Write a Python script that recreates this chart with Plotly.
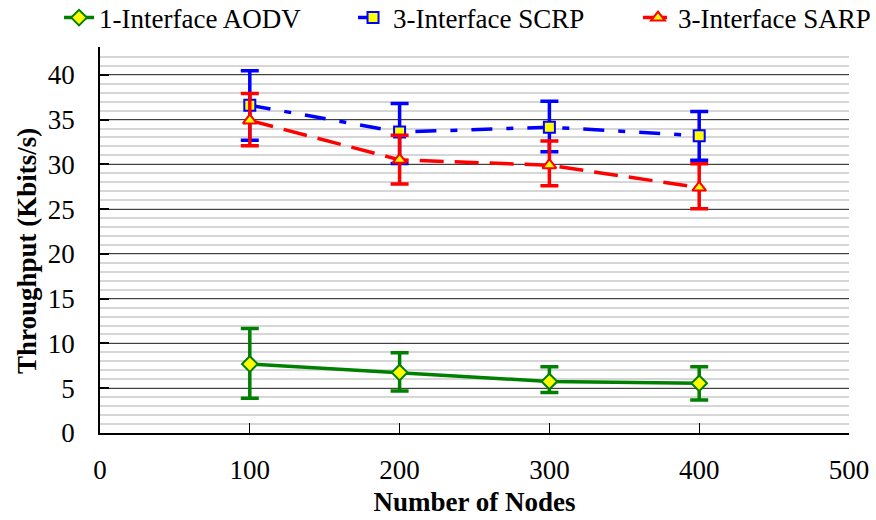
import plotly.graph_objects as go

# ---- data ----
nodes = [100, 200, 300, 400]

aodv = [7.7, 6.75, 5.75, 5.55]
aodv_err_plus = [3.97, 2.21, 1.66, 1.85]
aodv_err_minus = [3.81, 2.05, 1.23, 1.86]

scrp = [36.6, 33.6, 34.15, 33.2]
scrp_err_plus = [3.85, 3.2, 2.9, 2.7]
scrp_err_minus = [3.9, 3.5, 2.75, 2.75]

sarp = [34.9, 30.5, 29.9, 27.4]
sarp_err_plus = [3.0, 2.76, 2.7, 2.65]
sarp_err_minus = [2.84, 2.7, 2.3, 2.35]

names = ["1-Interface AODV", "3-Interface SCRP", "3-Interface SARP"]
x_ticks = [0, 100, 200, 300, 400, 500]
y_ticks = [0, 5, 10, 15, 20, 25, 30, 35, 40]

FONT = "Liberation Serif"

fig = go.Figure()

series = [
    (names[0], aodv, aodv_err_plus, aodv_err_minus, "#008000", "solid", "diamond", 12, "legend"),
    (names[1], scrp, scrp_err_plus, scrp_err_minus, "#0000FF", "21px,14px,7px,14px", "square", 11, "legend2"),
    (names[2], sarp, sarp_err_plus, sarp_err_minus, "#FF0000", "24px,11px", "triangle-up", 12, "legend3"),
]

for name, ys, ep, em, col, dash, sym, msz, lg in series:
    fig.add_trace(go.Scatter(
        x=nodes, y=ys, name=name, mode="lines+markers", legend=lg,
        line=dict(color=col, width=3.5, dash=dash),
        marker=dict(symbol=sym, size=msz, color="#FFFF00",
                    line=dict(color=col, width=2)),
        error_y=dict(type="data", symmetric=False, array=ep, arrayminus=em,
                     color=col, thickness=3.5, width=9),
    ))

def leg(x):
    return dict(orientation="h", x=x, xanchor="left", y=1.075, yanchor="middle",
                font=dict(family=FONT, size=27), bgcolor="rgba(0,0,0,0)",
                itemwidth=30)

fig.update_layout(
    width=876, height=520,
    margin=dict(l=100, r=27, t=47, b=87, autoexpand=False),
    paper_bgcolor="white", plot_bgcolor="white",
    font=dict(family=FONT, size=27, color="black"),
    legend=leg(-0.0547),
    legend2=leg(0.3378),
    legend3=leg(0.7183),
    showlegend=True,
    annotations=[dict(
        text="<b>Throughput (Kbits/s)</b>", textangle=-90,
        xref="paper", yref="paper", x=-0.0975, y=0.4715,
        xanchor="center", yanchor="middle", showarrow=False,
        font=dict(family=FONT, size=27),
    )],
)

fig.update_xaxes(
    range=[0, 500], tickvals=x_ticks, ticktext=[str(v) for v in x_ticks],
    ticks="inside", ticklen=10, tickwidth=1, tickcolor="black",
    showline=True, linecolor="black", linewidth=1.5,
    showgrid=False, zeroline=False,
    ticklabelstandoff=12,
    tickfont=dict(family=FONT, size=27),
    title=dict(text="<b>Number of Nodes</b>", font=dict(family=FONT, size=27), standoff=8),
)

fig.update_yaxes(
    range=[0, 43.1], tickvals=y_ticks, ticktext=[str(v) for v in y_ticks],
    ticks="inside", ticklen=9, tickwidth=1.5, tickcolor="black",
    showline=True, linecolor="black", linewidth=1.5,
    showgrid=True, gridcolor="#404040", gridwidth=1,
    zeroline=False,
    minor=dict(dtick=1, showgrid=True, gridcolor="#D6D6D6", gridwidth=1.5),
    ticklabelstandoff=18,
    tickfont=dict(family=FONT, size=27),
)

fig.write_html("out.html")
